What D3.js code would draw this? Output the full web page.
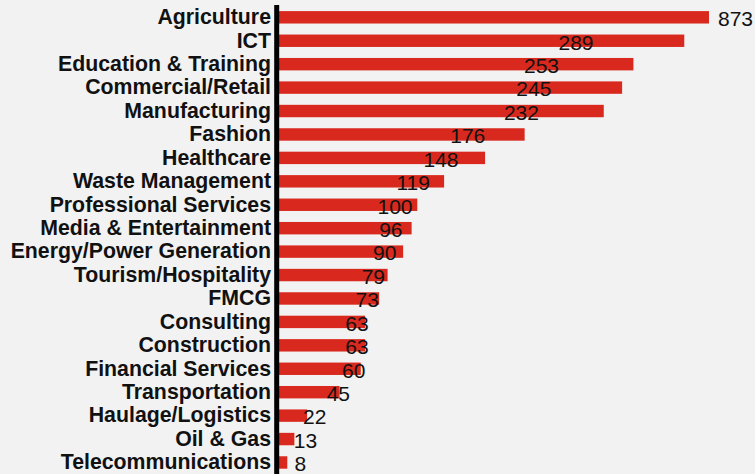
<!DOCTYPE html>
<html>
<head>
<meta charset="utf-8">
<script src="https://cdn.jsdelivr.net/npm/d3@7/dist/d3.min.js"></script>
<style>
  html, body { margin: 0; padding: 0; background: #f2f2f2; }
  svg { display: block; }
</style>
</head>
<body>
<svg width="755" height="474"></svg>
<script>
// sectors, top to bottom
const sectors = [
  'Agriculture ', 'ICT', 'Education & Training', 'Commercial/Retail',
  'Manufacturing', 'Fashion', 'Healthcare', 'Waste Management',
  'Professional Services', 'Media & Entertainment', 'Energy/Power Generation',
  'Tourism/Hospitality', 'FMCG', 'Consulting', 'Construction',
  'Financial Services', 'Transportation', 'Haulage/Logistics', 'Oil & Gas',
  'Telecommunications'
]
const counts = [873, 289, 253, 245, 232, 176, 148, 119, 100, 96, 90, 79, 73, 63, 63, 60, 45, 22, 13, 8]

const width = 755, height = 474
const svg = d3.select('svg')

svg.append('rect')
  .attr('width', width).attr('height', height)
  .attr('fill', '#f2f2f2')

// the first bar runs off the scale, so the scale is clamped
const x = d3.scaleLinear().domain([0, 306.5]).range([276, 709]).clamp(true)
// value labels sit roughly where they were dragged in the original
const labelX = d3.scaleLinear().domain([0, 100, 289]).range([292, 395, 576])
const y = d3.scaleBand().domain(sectors).range([5.6, 474.2])
  .paddingInner(0.47).paddingOuter(0.235)

const rows = sectors.map((s, i) => ({ s, v: counts[i] }))

svg.append('g')
  .selectAll('rect')
  .data(rows)
  .join('rect')
  .attr('x', x(0))
  .attr('y', d => y(d.s))
  .attr('width', d => x(d.v) - x(0))
  .attr('height', y.bandwidth())
  .attr('fill', '#d9291e')

svg.append('g')
  .attr('font-family', 'Liberation Sans, Arial, sans-serif')
  .attr('font-size', 21)
  .selectAll('text')
  .data(rows)
  .join('text')
  .attr('x', d => d.v > x.domain()[1] ? x(d.v) + 9 : labelX(d.v))
  .attr('y', d => y(d.s) + y.bandwidth() / 2)
  .attr('dy', '0.42em')
  .attr('text-anchor', d => d.v > x.domain()[1] ? 'start' : 'middle')
  .attr('fill', '#111')
  .text(d => d.v)

svg.append('g')
  .attr('font-family', 'Liberation Sans, Arial, sans-serif')
  .attr('font-size', 21.3)
  .attr('font-weight', 'bold')
  .style('white-space', 'pre')
  .selectAll('text')
  .data(rows)
  .join('text')
  .attr('x', 271)
  .attr('y', d => y(d.s) + y.bandwidth() / 2)
  .attr('dy', '0.32em')
  .attr('text-anchor', 'end')
  .attr('fill', '#111')
  .text(d => d.s)

// category axis line
svg.append('line')
  .attr('x1', 276.7).attr('x2', 276.7)
  .attr('y1', 5).attr('y2', height)
  .attr('stroke', '#000')
  .attr('stroke-width', 5)
</script>
</body>
</html>
